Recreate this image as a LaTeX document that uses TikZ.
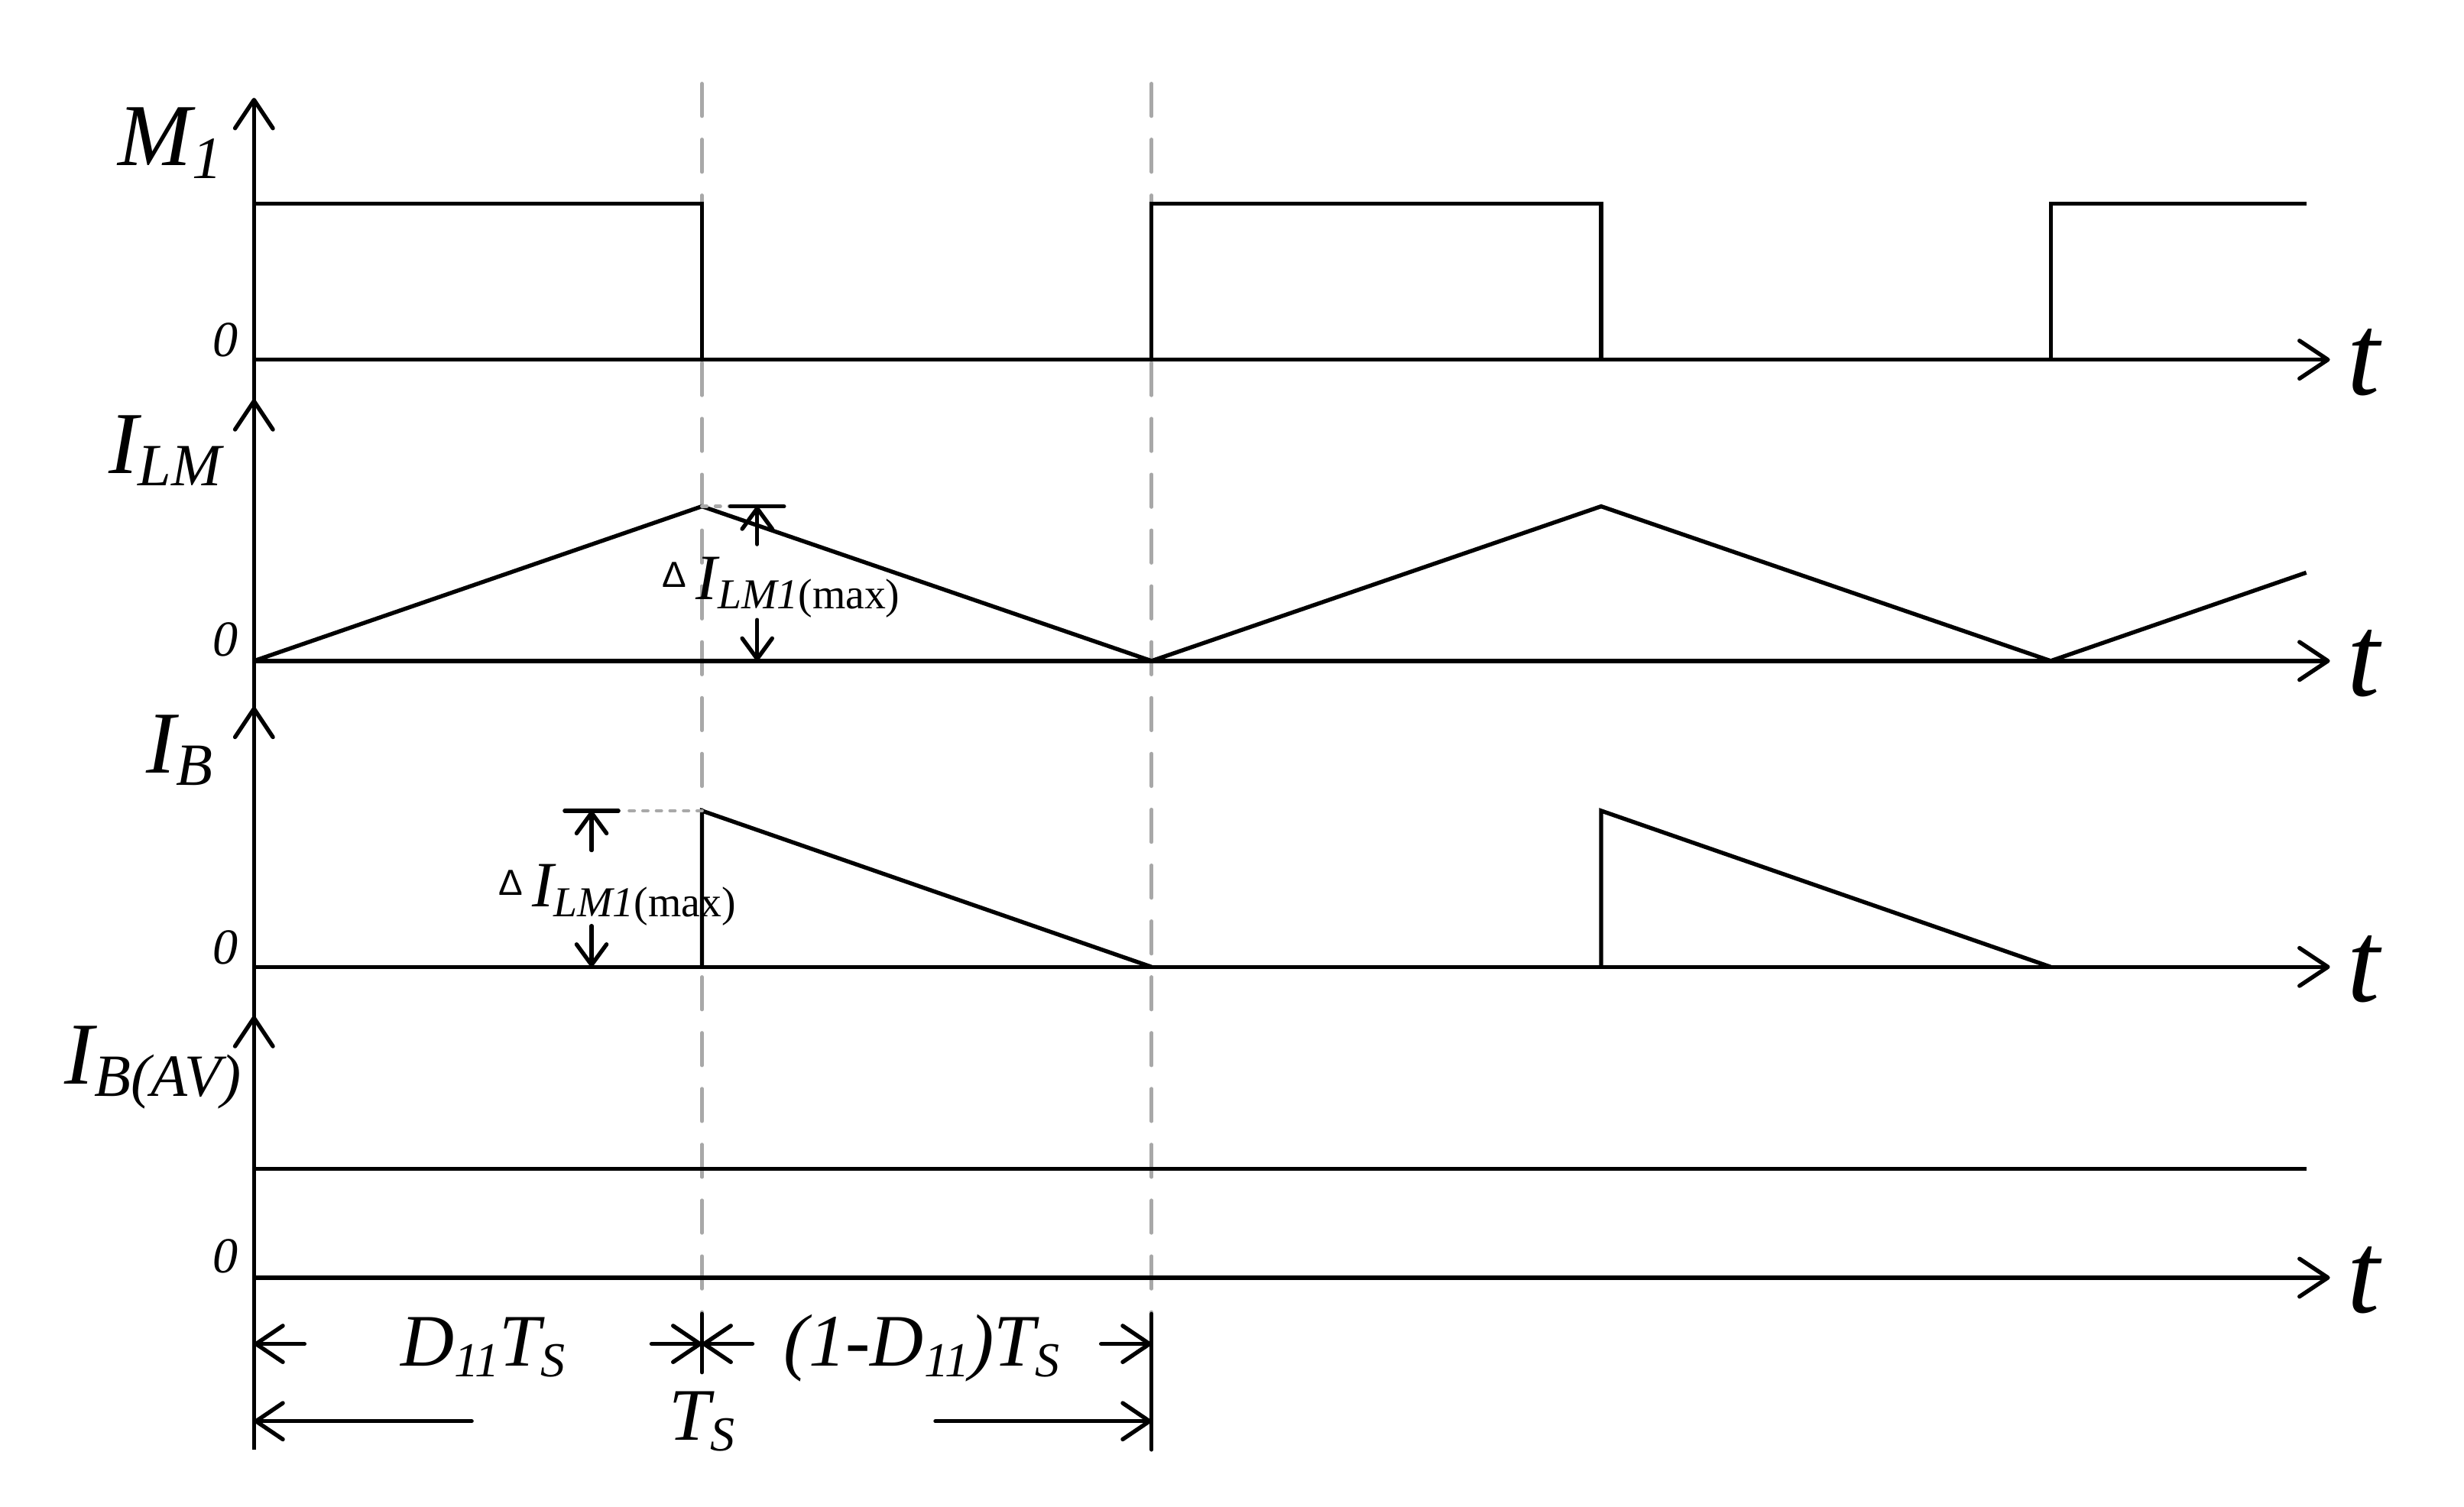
\documentclass[tikz,border=0pt]{standalone}
\usepackage{fontspec}
\setmainfont{Liberation Serif}
\newfontfamily\sansfam{Liberation Sans}
\usetikzlibrary{arrows.meta}
\definecolor{guidegray}{RGB}{168,168,168}
\newcommand{\axlab}[2]{{\fontsize{28}{30}\selectfont\itshape #1\raisebox{-4pt}{\fontsize{19}{20}\selectfont #2}}}
\newcommand{\zerolab}{{\fontsize{16}{17}\selectfont\itshape 0}}
\newcommand{\tlab}{{\fontsize{37}{39}\selectfont\itshape t}}
\newcommand{\dsub}[1]{\raisebox{-3.5pt}{\fontsize{15.5}{16}\selectfont #1}}
\newcommand{\deltalab}{\raisebox{3.8pt}{\sansfam\fontsize{11.5}{12}\selectfont Δ}\hspace{3pt}{\fontsize{20.5}{22}\selectfont\itshape I}\raisebox{-3pt}{\fontsize{13.5}{14}\selectfont\itshape LM1\upshape(max)}}
\begin{document}
\begin{tikzpicture}[x=0.5pt,y=-0.5pt,
  wave/.style={line width=1.3pt, line join=miter},
  axisline/.style={line width=1.3pt, -{Straight Barb[length=9pt,width=12pt,round]}},
  dimarrow/.style={line width=1.3pt, line cap=round, -{Straight Barb[length=8.5pt,width=11.5pt,round]}},
  smallarrow/.style={line width=1.3pt, line cap=round, -{Straight Barb[length=6.5pt,width=9.5pt,round]}},
  plainline/.style={line width=1.3pt, line cap=round},
  guide/.style={line width=1.15pt, draw=guidegray, line cap=round, dash pattern=on 10.3pt off 7.4pt},
  dotguide/.style={line width=1.15pt, draw=guidegray, line cap=round, dash pattern=on 1.5pt off 2.8pt},
  lbl/.style={inner sep=0pt, outer sep=0pt}]
\useasboundingbox (0,0) rectangle (1562,955.4);

% ---------- key coordinates ----------
\coordinate (axbot) at (161,919);
\coordinate (axtop) at (161,62);
\coordinate (z1) at (161,228);   \coordinate (e1) at (1477,228);
\coordinate (z2) at (161,419);   \coordinate (e2) at (1477,419);
\coordinate (z3) at (161,613);   \coordinate (e3) at (1477,613);
\coordinate (z4) at (161,810);   \coordinate (e4) at (1477,810);

% ---------- guide dashed lines ----------
\coordinate (ga) at (445,53);  \coordinate (gab) at (445,833);
\coordinate (gb) at (730,53);  \coordinate (gbb) at (730,833);
\draw[guide] (ga) -- (gab);
\draw[guide] (gb) -- (gbb);

% ---------- axes ----------
\draw[axisline] (axbot) -- (axtop);
\draw[axisline] (161,285) -- (161,253);
\draw[axisline] (161,480) -- (161,448);
\draw[axisline] (161,676) -- (161,644);
\draw[axisline] (z1) -- (e1);
\draw[axisline] (z2) -- (e2);
\draw[axisline] (z3) -- (e3);
\draw[axisline] (z4) -- (e4);

% ---------- waveforms ----------
% M1
\draw[wave] (161,129) -- (445,129) -- (445,228);
\draw[wave] (730,228) -- (730,129) -- (1015,129) -- (1015,228);
\draw[wave] (1300,228) -- (1300,129) -- (1462,129);
% I_LM
\draw[wave] (161,419) -- (445,321) -- (730,419) -- (1015,321) -- (1300,419) -- (1462,363);
% I_B
\draw[wave] (445,613) -- (445,514) -- (730,613);
\draw[wave] (1015,613) -- (1015,514) -- (1300,613);
% I_B(AV)
\draw[wave] (161,741) -- (1462,741);

% ---------- axis labels ----------
\node[lbl, anchor=base west] (lM) at (75,105) {\axlab{M}{1}};
\node[lbl, anchor=base west] (lLM) at (69,300) {\axlab{I}{LM}};
\node[lbl, anchor=base west] (lB) at (93,490) {\axlab{I}{B}};
\node[lbl, anchor=base west] (lBAV) at (41,687) {\axlab{I}{B(AV)}};
\node[lbl, anchor=base east] (n1) at (151,226) {\zerolab};
\node[lbl, anchor=base east] (n2) at (151,416) {\zerolab};
\node[lbl, anchor=base east] (n3) at (151,611) {\zerolab};
\node[lbl, anchor=base east] (n4) at (151,807) {\zerolab};
\node[lbl, anchor=base west] (t1) at (1488,250) {\tlab};
\node[lbl, anchor=base west] (t2) at (1488,441) {\tlab};
\node[lbl, anchor=base west] (t3) at (1488,635) {\tlab};
\node[lbl, anchor=base west] (t4) at (1488,832) {\tlab};

% ---------- Delta I annotation (I_LM) ----------
\coordinate (pk1) at (445,321);
\coordinate (b1l) at (463,321); \coordinate (b1r) at (497,321);
\coordinate (a1t) at (480,321); \coordinate (a1s) at (480,345);
\coordinate (a1d) at (480,393); \coordinate (a1b) at (480,419);
\draw[dotguide] (pk1) -- (b1l);
\draw[plainline] (b1l) -- (b1r);
\draw[smallarrow] (a1s) -- (a1t);
\draw[smallarrow] (a1d) -- (a1b);
\node[lbl, anchor=base west] (dl1) at (420,380) {\deltalab};

% ---------- Delta I annotation (I_B) ----------
\coordinate (pk2) at (445,514);
\coordinate (b2l) at (358,514); \coordinate (b2r) at (392,514);
\coordinate (a2t) at (375,514); \coordinate (a2s) at (375,539);
\coordinate (a2d) at (375,587); \coordinate (a2b) at (375,613);
\draw[dotguide] (pk2) -- (397,514);
\draw[plainline] (b2l) -- (b2r);
\draw[smallarrow] (a2s) -- (a2t);
\draw[smallarrow] (a2d) -- (a2b);
\node[lbl, anchor=base west] (dl2) at (316,575) {\deltalab};

% ---------- time dimensions ----------
\coordinate (r1a) at (161,852); \coordinate (r1b) at (193,852);
\coordinate (sm) at (445,852); \coordinate (sl) at (413,852); \coordinate (sr) at (477,852);
\coordinate (r1c) at (698,852); \coordinate (r1d) at (730,852);
\coordinate (r2a) at (161,901); \coordinate (r2b) at (299,901);
\coordinate (r2c) at (593,901); \coordinate (r2d) at (730,901);
\draw[dimarrow] (r1b) -- (r1a);
\draw[dimarrow] (sl) -- (sm);
\draw[dimarrow] (sr) -- (sm);
\draw[dimarrow] (r1c) -- (r1d);
\draw[dimarrow] (r2b) -- (r2a);
\draw[dimarrow] (r2c) -- (r2d);
\draw[plainline] (445,833) -- (445,870);
\draw[plainline] (730,833) -- (730,919);

\node[lbl, anchor=base west] (dT) at (254,866) {\fontsize{23.5}{25}\selectfont\itshape D\dsub{11}T\dsub{S}};
\node[lbl, anchor=base west] (dT2) at (497,866) {\fontsize{23.5}{25}\selectfont\itshape (1-D\dsub{11})T\dsub{S}};
\node[lbl, anchor=base west] (TT) at (424,913) {\fontsize{23.5}{25}\selectfont\itshape T\dsub{S}};
\end{tikzpicture}
\end{document}
